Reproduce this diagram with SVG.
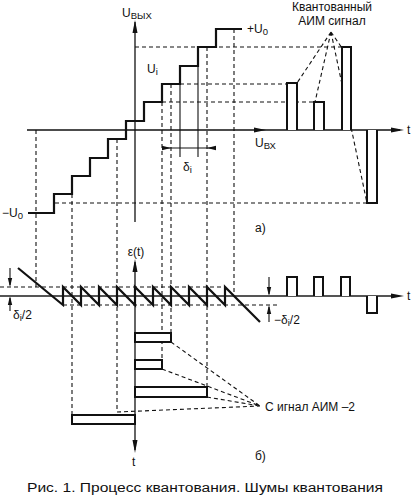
<svg xmlns="http://www.w3.org/2000/svg" width="413" height="498" viewBox="0 0 413 498">
<style>
text{font-family:"Liberation Sans",Arial,sans-serif;font-size:12px;fill:#111}
.sub{font-size:9.5px}
.ax{stroke:#111;stroke-width:1.3;fill:none}
.gax{stroke:#555;stroke-width:2;fill:none}
.th{stroke:#111;stroke-width:2.2;fill:none}
.pl{stroke:#111;stroke-width:2;fill:#fff}
.ds{stroke:#111;stroke-width:1.1;fill:none;stroke-dasharray:4,3}
.sl{stroke:#111;stroke-width:1.1;fill:none}
.ah{fill:#111}
</style>
<rect width="413" height="498" fill="#fff"/>
<g id="connectors">
<path class="ds" d="M36,130V287M72,194V415M117,139V412M162,102V360M171,84V333M207,47V387M234,29V296"/>
<path class="ds" d="M135,47H342M180,84H287M162,102H314M55,203H367"/>
<path class="ds" d="M0,287H225M63,305H277"/>
<path class="sl" d="M180,66V157M198,47V157"/>
<path class="sl" d="M162,148H215"/>
<path class="ah" d="M171,148L162,145.8V150.2Z"/>
<path class="ah" d="M207,148L216,145.8V150.2Z"/>
<path class="ds" d="M331,32L297,83M331,32L315,102M331,32L342,48M331,32L367,203"/>
<path class="ds" d="M171,342L260,406M162,369L260,406M207,397L260,406M117,412L260,406"/>
<path class="sl" d="M10,268V285M10,298V311"/>
<path class="ah" d="M10,287L7.8,278H12.2Z"/>
<path class="ah" d="M10,296L7.8,305H12.2Z"/>
<path class="sl" d="M269,277V294M269,307V322"/>
<path class="ah" d="M269,296L266.8,287H271.2Z"/>
<path class="ah" d="M269,305L266.8,314H271.2Z"/>
</g>
<g id="axes">
<path class="ax" d="M135,22V222"/>
<path class="ah" d="M135,20L132.5,33H137.5Z"/>
<path class="ax" d="M27,130H400"/>
<path class="ah" d="M404,130L391,127.5V132.5Z"/>
<path class="ah" d="M266,130L254,127.5V132.5Z"/>
<path class="gax" d="M0,296H398"/>
<path class="ah" d="M404,296L391,293.5V298.5Z"/>
<path class="ax" d="M135,262V450"/>
<path class="ah" d="M135,259L132.5,272H137.5Z"/>
<path class="ah" d="M135,453L132.5,440H137.5Z"/>
</g>
<g id="staircase">
<path class="th" d="M28,213H54V194H72V176H90V158H108V139H126V121H144V102H162V84H180V66H198V47H216V29H242"/>
</g>
<g id="aim-pulses">
<path class="pl" fill="none" d="M287,130V83H297V130M314,130V102H324V130M342,130V47H351V130M367,130V203H377V130"/>
</g>
<g id="sawtooth">
<path class="th" stroke-width="1.9" d="M18,268L63,305V287L81,305V287L99,305V287L117,305V287L135,305V287L153,305V287L171,305V287L189,305V287L207,305V287L225,305V287L260,322"/>
</g>
<g id="error-pulses">
<path class="pl" fill="none" d="M287,296V277H297V296M314,296V277H323V296M341,296V277H350V296M367,296V313H377V296"/>
</g>
<g id="aim2-bars">
<rect class="pl" x="135" y="333" width="36" height="9"/>
<rect class="pl" x="135" y="360" width="27" height="9"/>
<rect class="pl" x="135" y="387" width="72" height="10"/>
<rect class="pl" x="72" y="415" width="63" height="9"/>
</g>
<g id="labels">
<text x="122" y="17">U<tspan class="sub" dy="2">ВЫХ</tspan></text>
<text x="147" y="73">U<tspan class="sub" dy="2">i</tspan></text>
<text x="247" y="33">+U<tspan class="sub" dy="2">0</tspan></text>
<text x="2" y="217">−U<tspan class="sub" dy="2">0</tspan></text>
<text x="255" y="147">U<tspan class="sub" dy="2">ВХ</tspan></text>
<text x="183" y="171">δ<tspan class="sub" dy="2">i</tspan></text>
<text x="407" y="134">t</text>
<text x="407" y="300">t</text>
<text x="132" y="466">t</text>
<text x="255" y="232">a)</text>
<text x="255" y="460">б)</text>
<text x="136" y="256" text-anchor="middle">ε(t)</text>
<text x="13" y="319">δ<tspan class="sub" dy="2">i</tspan><tspan dy="-2">/2</tspan></text>
<text x="274" y="324">−δ<tspan class="sub" dy="2">i</tspan><tspan dy="-2">/2</tspan></text>
<text x="332" y="11" text-anchor="middle">Квантованный</text>
<text x="332" y="25" text-anchor="middle">АИМ сигнал</text>
<text x="265" y="411">С игнал АИМ –2</text>
<text x="27" y="492" font-size="15.5" textLength="356" lengthAdjust="spacingAndGlyphs">Рис. 1. Процесс квантования. Шумы квантования</text>
</g>
</svg>
